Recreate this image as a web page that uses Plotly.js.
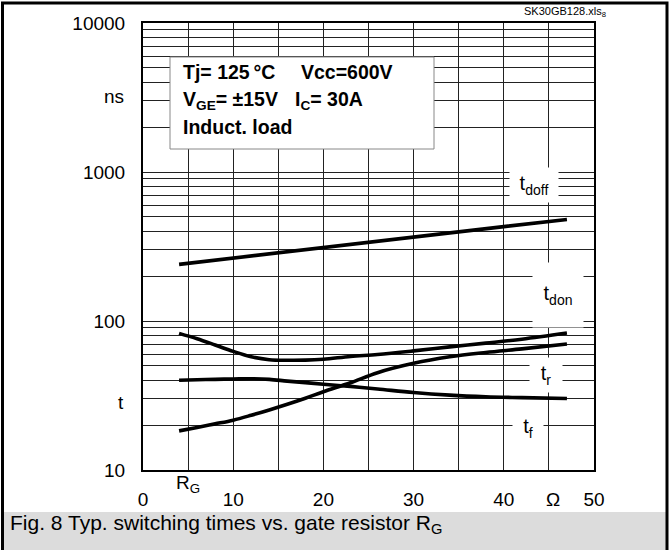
<!DOCTYPE html>
<html>
<head>
<meta charset="utf-8">
<script src="https://cdn.plot.ly/plotly-3.0.1.min.js"></script>
<style>
  html, body { margin: 0; padding: 0; background: #fff; }
  #chart { width: 670px; height: 550px; }
</style>
</head>
<body>
<div id="chart"></div>
<script>
// ---- data ----
const rgDoff = [4, 10, 20, 30, 40, 47];
const tDoff  = [240, 265, 312, 367, 430, 480];

const rg    = [4, 6, 8, 10, 12, 14, 16, 18, 20, 23, 26, 30, 34, 38, 42, 47];
const tDon  = [82.6, 76, 69, 62.5, 57.5, 55, 54.5, 54.6, 55.4, 57.8, 59.6, 63, 67, 71, 75.5, 83];
const tR    = [18.3, 19.3, 20.4, 21.6, 23.3, 25.3, 27.6, 30.3, 33.5, 38.5, 45, 52, 57.5, 61.5, 65, 70];
const tF    = [40, 40.3, 40.6, 40.8, 41, 40.6, 39.5, 38.6, 37.6, 36.4, 35, 33.1, 31.8, 31, 30.6, 30.2];

const xTickVals  = [0, 5, 10, 15, 20, 25, 30, 35, 40, 45, 50];
const xTickText  = ['0', '', '10', '', '20', '', '30', '', '40', '', '50'];
const yGridVals  = [10,20,30,40,50,60,70,80,90,100,200,300,400,500,600,700,800,900,1000,2000,3000,4000,5000,6000,7000,8000,9000,10000];
const yDecadeLbl = {10: '10', 100: '100', 1000: '1000', 10000: '10000'};
const yTickText  = yGridVals.map(v => yDecadeLbl[v] || '');

// ---- pixel helpers for decorations ----
const L = 143, R = 594, T = 23, B = 470;
const px = x => (x - L) / (R - L);
const py = y => (B - y) / (B - T);

const FONT = 'Liberation Sans, Arial, Helvetica, sans-serif';
const lineStyle = {color: '#000', width: 3.6};

const traces = [
  {x: rgDoff, y: tDoff, mode: 'lines', line: Object.assign({shape: 'linear'}, lineStyle), name: 'tdoff'},
  {x: rg, y: tDon, mode: 'lines', line: Object.assign({shape: 'spline', smoothing: 1}, lineStyle), name: 'tdon'},
  {x: rg, y: tR, mode: 'lines', line: Object.assign({shape: 'spline', smoothing: 1}, lineStyle), name: 'tr'},
  {x: rg, y: tF, mode: 'lines', line: Object.assign({shape: 'spline', smoothing: 1}, lineStyle), name: 'tf'}
];

function ann(text, x, y, opts) {
  return Object.assign({
    text: text, xref: 'paper', yref: 'paper', x: px(x), y: py(y),
    showarrow: false, xanchor: 'center', yanchor: 'middle',
    font: {family: FONT, size: 19, color: '#000'}
  }, opts || {});
}
const boldFont = {family: FONT, size: 19.5, color: '#000', weight: 'bold'};
const lblFont = {family: FONT, size: 20, color: '#000'};

const annotations = [
  ann('SK30GB128.xls<sub>8</sub>', 608, 12, {xanchor: 'right', font: {family: FONT, size: 11, color: '#000'}}),
  ann('ns', 126, 97, {xanchor: 'right'}),
  ann('t', 126, 402, {xanchor: 'right'}),
  ann('R<sub>G</sub>', 188, 484),
  ann('\u03A9', 553, 500),
  ann('<b>Tj= 125\u2009\u00B0C</b>', 181, 72, {xanchor: 'left', font: boldFont}),
  ann('<b>Vcc=600V</b>', 299, 72, {xanchor: 'left', font: boldFont}),
  ann('<b>V<sub>GE</sub>= \u00B115V</b>', 181, 100, {xanchor: 'left', font: boldFont}),
  ann('<b>I<sub>C</sub>= 30A</b>', 293, 100, {xanchor: 'left', font: boldFont}),
  ann('<b>Induct. load</b>', 181, 127, {xanchor: 'left', font: boldFont}),
  ann('t<sub>doff</sub>', 534, 185, {bgcolor: '#fff', width: 46, height: 32, font: lblFont}),
  ann('t<sub>don</sub>', 558, 295, {bgcolor: '#fff', width: 48, height: 62, font: lblFont}),
  ann('t<sub>r</sub>', 546, 375, {bgcolor: '#fff', width: 30, height: 32, font: lblFont}),
  ann('t<sub>f</sub>', 528, 428, {bgcolor: '#fff', width: 28, height: 30, font: lblFont}),
  ann('Fig. 8 Typ. switching times vs. gate resistor R<sub>G</sub>', 8, 524, {xanchor: 'left', font: {family: FONT, size: 21, color: '#000'}})
];

const shapes = [
  // condition box
  {type: 'rect', xref: 'paper', yref: 'paper', x0: px(170), x1: px(434), y0: py(57), y1: py(149),
   fillcolor: '#fff', line: {color: '#888', width: 1}, layer: 'above'},
  // caption band
  {type: 'rect', xref: 'paper', yref: 'paper', x0: px(3), x1: px(667), y0: py(512), y1: py(552),
   fillcolor: '#dcdcdc', line: {width: 0}, layer: 'above'},
  // outer frame
  {type: 'rect', xref: 'paper', yref: 'paper', x0: px(2.5), x1: px(667), y0: py(3), y1: py(560),
   fillcolor: 'rgba(0,0,0,0)', line: {color: '#000', width: 3}, layer: 'above'}
];

const layout = {
  width: 670, height: 550,
  margin: {l: L, r: 670 - R, t: T, b: 550 - B, pad: 0},
  paper_bgcolor: '#fff', plot_bgcolor: '#fff',
  showlegend: false,
  xaxis: {
    range: [0, 50], tickmode: 'array', tickvals: xTickVals, ticktext: xTickText,
    showgrid: true, gridcolor: '#222', gridwidth: 1, zeroline: false,
    showline: true, mirror: true, linecolor: '#000', linewidth: 2,
    ticks: '', ticklabelstandoff: 11,
    tickfont: {family: FONT, size: 19, color: '#000'}
  },
  yaxis: {
    type: 'log', range: [1, 4], tickmode: 'array', tickvals: yGridVals, ticktext: yTickText,
    showgrid: true, gridcolor: '#222', gridwidth: 1, zeroline: false,
    showline: true, mirror: true, linecolor: '#000', linewidth: 2,
    ticks: '', ticklabelstandoff: 12,
    tickfont: {family: FONT, size: 19, color: '#000'}
  },
  annotations: annotations,
  shapes: shapes
};

Plotly.newPlot('chart', traces, layout, {staticPlot: true, displayModeBar: false});
</script>
</body>
</html>
